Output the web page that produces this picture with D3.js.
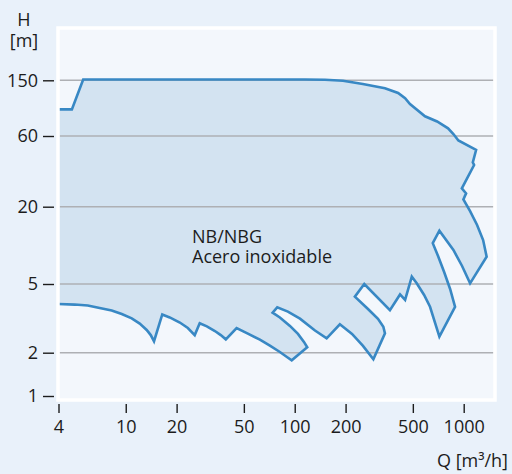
<!DOCTYPE html>
<html>
<head>
<meta charset="utf-8">
<script src="https://cdn.jsdelivr.net/npm/d3@7"></script>
<style>
  html, body { margin: 0; padding: 0; background: #e9f1fa; }
  svg { display: block; }
  text { font-family: "Open Sans", "Noto Sans", sans-serif; }
</style>
</head>
<body>
<svg id="chart" width="512" height="474"></svg>
<script>
// ---- Data ----
const xTicks = [4, 10, 20, 50, 100, 200, 500, 1000];
const yTicks = [1, 2, 5, 20, 60, 150];
const gridValues = [2, 5, 20, 60, 150];
const areaLabel = ["NB/NBG", "Acero inoxidable"];
const xTitle = "Q [m³/h]";
const yTitle = ["H", "[m]"];

// Envelope outline of the operating range: flow Q [m³/h], head H [m]
const envQ = [4, 4.8, 5.6, 115, 151, 193, 253, 342, 409, 450, 481, 590, 696, 808, 869, 930, 1184,
  1132, 1152, 975, 1033, 996, 1091, 1200, 1303, 1367, 1091, 978, 869, 718, 656, 705, 766, 831, 889,
  718, 632, 583, 526, 493, 450, 420, 366, 258, 227, 271.4, 311, 334.5, 342, 292, 253.5, 218.3, 185,
  154.5, 131.8, 107.4, 91.1, 78.8, 74, 81.7, 93.7, 104.5, 113.4, 118.6, 96, 89.9, 81.7, 71.3, 62.2,
  52.8, 45.3, 39.1, 36.5, 33.7, 30.2, 27.4, 25.6, 23.3, 20.9, 18.2, 16.45, 14.7, 14.06, 13.3, 12.1,
  10.85, 9.47, 8.26, 7.01, 5.96, 4.99, 4];
const envH = [93, 93, 152, 152, 151.2, 148.8, 141, 131.5, 121.7, 111.6, 101.6, 83, 76.2, 68.1, 62, 56, 48.3,
  39.8, 38.2, 26.6, 24.6, 22.4, 18.5, 14.4, 11.0, 8.16, 5.06, 6.91, 9.2, 13.0, 10.4, 8.26, 6.2, 4.68, 3.69,
  2.48, 3.69, 4.32, 5.09, 5.7, 4.04, 4.35, 3.53, 5.0, 4.22, 3.58, 3.14, 2.83, 2.59, 1.80, 2.19, 2.57, 2.92,
  2.42, 2.69, 3.15, 3.46, 3.66, 3.41, 3.20, 2.86, 2.57, 2.31, 2.15, 1.77, 1.867, 2.02, 2.20, 2.38,
  2.58, 2.78, 2.39, 2.53, 2.67, 2.84, 2.96, 2.53, 2.78, 2.99, 3.20, 3.33, 2.33, 2.53, 2.71, 2.95,
  3.16, 3.35, 3.51, 3.63, 3.75, 3.80, 3.83];

// ---- Layout ----
const svg = d3.select("#chart");
const W = 512, H = 474;
const plot = { x: 58, y: 28, w: 437, h: 372 };
const colors = {
  bg: "#e9f1fa", plot: "#f3f7fc", fill: "#d3e3f1", stroke: "#3888c4",
  grid: "#aeb0b4", text: "#1c1c1c"
};

// x: logarithmic; y: piecewise logarithmic (tick spacing of the original chart)
const x = d3.scaleLog().domain([4, 1000]).range([58.5, 463.7]);
const y = d3.scaleLog().domain(yTicks).range([396, 352.7, 284, 206.7, 136, 80.3]);

svg.append("rect").attr("width", W).attr("height", H).attr("fill", colors.bg);
svg.append("rect").attr("x", plot.x).attr("y", plot.y).attr("width", plot.w).attr("height", plot.h)
  .attr("fill", colors.plot);

const pts = envQ.map((q, i) => ({ q, h: envH[i] }));
const line = d3.line().x(d => x(d.q)).y(d => y(d.h)).curve(d3.curveLinear);

svg.append("path").attr("d", line(pts) + "Z").attr("fill", colors.fill).attr("stroke", "none");

svg.append("g").selectAll("line").data(gridValues).join("line")
  .attr("x1", plot.x + 1.5).attr("x2", plot.x + plot.w - 1.5)
  .attr("y1", d => y(d)).attr("y2", d => y(d))
  .attr("stroke", colors.grid).attr("stroke-width", 1.5);

svg.append("path").attr("d", line(pts)).attr("fill", "none")
  .attr("stroke", colors.stroke).attr("stroke-width", 2.6).attr("stroke-linejoin", "miter");

svg.append("rect").attr("x", plot.x).attr("y", plot.y).attr("width", plot.w).attr("height", plot.h)
  .attr("fill", "none").attr("stroke", "#ffffff").attr("stroke-width", 3.5);

// Axes
const yAxis = svg.append("g").attr("transform", "translate(54,0)")
  .call(d3.axisLeft(y).tickValues(yTicks).tickFormat(d3.format("d")).tickSize(11).tickPadding(5));
const xAxis = svg.append("g").attr("transform", "translate(0,404)")
  .call(d3.axisBottom(x).tickValues(xTicks).tickFormat(d3.format("d")).tickSize(9).tickPadding(7));
[yAxis, xAxis].forEach(g => {
  g.select(".domain").remove();
  g.selectAll(".tick line").attr("stroke", colors.text).attr("stroke-width", 1.4);
  g.selectAll(".tick text").attr("fill", colors.text)
    .style("font-size", "18px").style("font-family", "'Open Sans', 'Noto Sans', sans-serif");
});

// Titles
svg.append("text").attr("x", 24).attr("y", 26).attr("text-anchor", "middle")
  .attr("font-size", 18).attr("fill", colors.text).text(yTitle[0]);
svg.append("text").attr("x", 24).attr("y", 47).attr("text-anchor", "middle")
  .attr("font-size", 18).attr("fill", colors.text).text(yTitle[1]);
svg.append("text").attr("x", 508).attr("y", 467).attr("text-anchor", "end")
  .attr("font-size", 18).attr("fill", colors.text).text(xTitle);

// Area label
svg.append("g").selectAll("text").data(areaLabel).join("text")
  .attr("x", 192).attr("y", (d, i) => 243 + i * 19.6)
  .attr("font-size", 18).attr("fill", colors.text).text(d => d);
</script>
</body>
</html>
